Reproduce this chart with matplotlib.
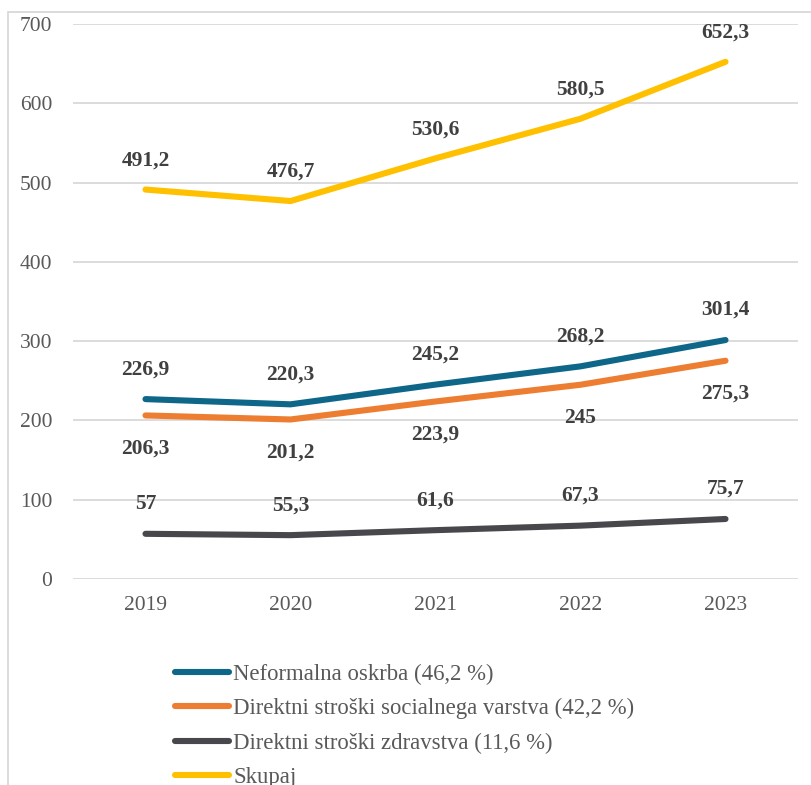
import matplotlib
matplotlib.use("Agg")
import matplotlib.pyplot as plt
from matplotlib.patches import Rectangle

years = ["2019", "2020", "2021", "2022", "2023"]
neformalna = [226.9, 220.3, 245.2, 268.2, 301.4]
socialno = [206.3, 201.2, 223.9, 245.0, 275.3]
zdravstvo = [57.0, 55.3, 61.6, 67.3, 75.7]
skupaj = [491.2, 476.7, 530.6, 580.5, 652.3]

labels = ["Neformalna oskrba (46,2 %)",
          "Direktni stroški socialnega varstva (42,2 %)",
          "Direktni stroški zdravstva (11,6 %)",
          "Skupaj"]
colors = ["#0E6689", "#ED7D31", "#48474C", "#FFC000"]
series = [neformalna, socialno, zdravstvo, skupaj]
label_offsets = [30, -33, 30, 29]  # pixels: positive above, negative below

plt.rcParams['font.family'] = ['Liberation Serif', 'DejaVu Serif']

W, H = 812, 785
fig = plt.figure(figsize=(W / 100, H / 100), dpi=100)
ax = fig.add_axes([73 / W, (H - 579) / H, (798 - 73) / W, (579 - 24) / H])

x = list(range(len(years)))
lines = []
for vals, col, lab, off in zip(series, colors, labels, label_offsets):
    ln, = ax.plot(x, vals, color=col, lw=4.4, solid_capstyle='round', label=lab, zorder=3)
    lines.append(ln)
    for xi, v in zip(x, vals):
        txt = f"{v:g}".replace('.', ',')
        ax.annotate(txt, (xi, v), xytext=(0, off * 0.72), textcoords='offset points',
                    ha='center', va='center', fontsize=15.5, fontweight='bold',
                    color='#404040', zorder=4)

ax.set_xlim(-0.5, len(years) - 0.5)
ax.set_ylim(0, 700)
ax.set_yticks(range(0, 701, 100))
ax.set_xticks(x)
ax.set_xticklabels(years)
ax.grid(axis='y', color='#D9D9D9', lw=1.3, zorder=0)
ax.set_axisbelow(True)
for s in ax.spines.values():
    s.set_visible(False)
ax.tick_params(axis='both', length=0, labelsize=15.5, colors='#595959')
ax.tick_params(axis='y', pad=15)
ax.tick_params(axis='x', pad=12)

leg = fig.legend(handles=lines, loc='upper left',
                 bbox_to_anchor=(175 / W, 1 - 664 / H), frameon=False,
                 fontsize=16.4, handlelength=2.37, handletextpad=0.18,
                 labelspacing=0.575, borderaxespad=0, borderpad=0)
for t in leg.get_texts():
    t.set_color('#595959')

fig.patches.append(Rectangle((7.5 / W, -0.05), 1.1, (H - 12) / H + 0.05,
                             transform=fig.transFigure, fill=False,
                             edgecolor='#D9D9D9', lw=1.3))

fig.savefig("out.png", dpi=100, facecolor='white')
